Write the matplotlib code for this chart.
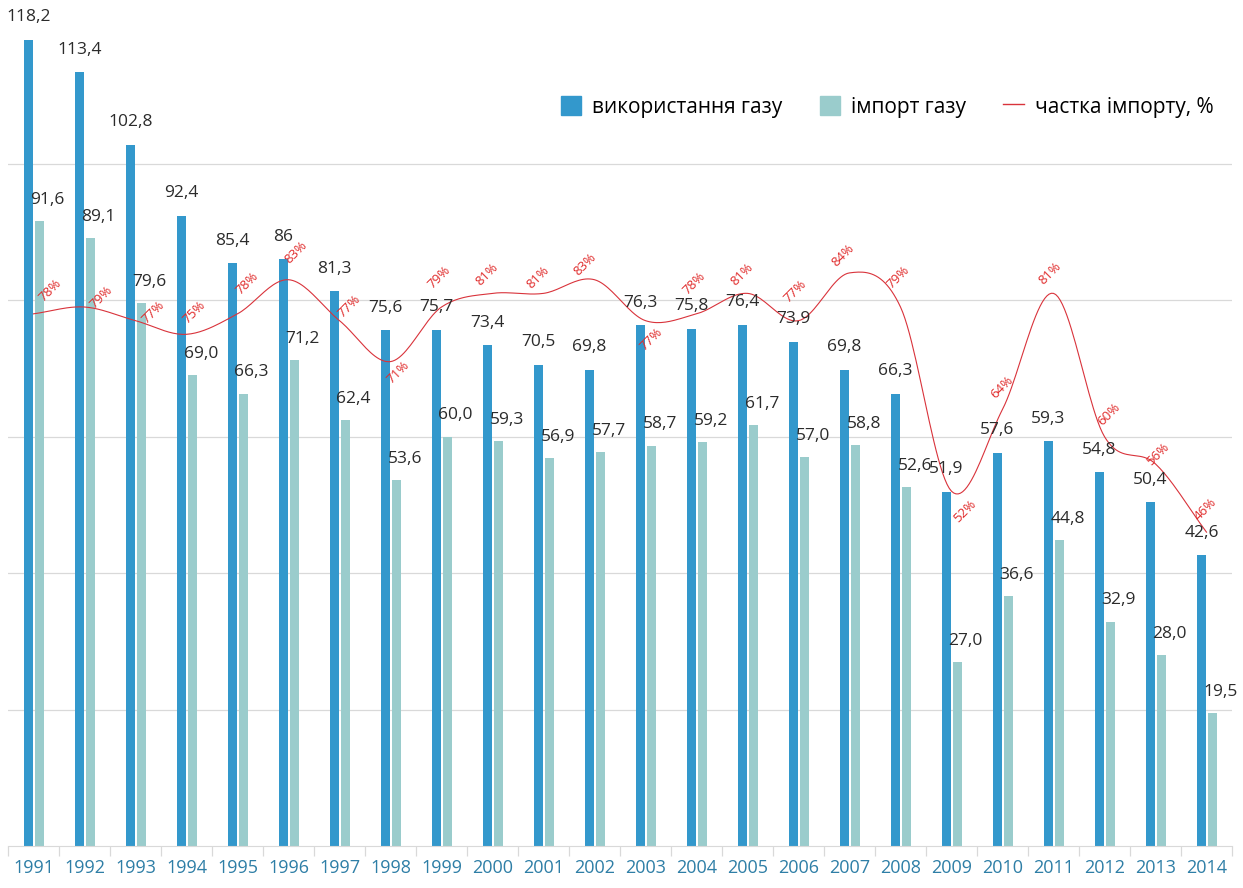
import numpy as np
import matplotlib.pyplot as plt
from matplotlib.patches import Patch
from matplotlib.lines import Line2D

years = [str(y) for y in range(1991, 2015)]
gas_use = [118.2, 113.4, 102.8, 92.4, 85.4, 86, 81.3, 75.6, 75.7, 73.4, 70.5, 69.8,
           76.3, 75.8, 76.4, 73.9, 69.8, 66.3, 51.9, 57.6, 59.3, 54.8, 50.4, 42.6]
gas_import = [91.6, 89.1, 79.6, 69.0, 66.3, 71.2, 62.4, 53.6, 60.0, 59.3, 56.9, 57.7,
              58.7, 59.2, 61.7, 57.0, 58.8, 52.6, 27.0, 36.6, 44.8, 32.9, 28.0, 19.5]
import_share = [78, 79, 77, 75, 78, 83, 77, 71, 79, 81, 81, 83,
                77, 78, 81, 77, 84, 79, 52, 64, 81, 60, 56, 46]
use_labels = ["118,2", "113,4", "102,8", "92,4", "85,4", "86", "81,3", "75,6", "75,7", "73,4",
              "70,5", "69,8", "76,3", "75,8", "76,4", "73,9", "69,8", "66,3", "51,9", "57,6",
              "59,3", "54,8", "50,4", "42,6"]
imp_labels = ["91,6", "89,1", "79,6", "69,0", "66,3", "71,2", "62,4", "53,6", "60,0", "59,3",
              "56,9", "57,7", "58,7", "59,2", "61,7", "57,0", "58,8", "52,6", "27,0", "36,6",
              "44,8", "32,9", "28,0", "19,5"]

# label offsets of the % labels, in pixels (dx, dy)
pct_offsets = [(17, 24), (17, 10), (18, 8), (8, 22), (10, 31), (8, 27), (10, 14), (8, -11),
               (-2, 30), (-5, 19), (-5, 16), (-9, 15), (6, -19), (-2, 31), (-5, 19), (-3, 29),
               (-6, 18), (-2, 30), (13, -20), (-1, 22), (-3, 20), (4, 22), (2, 10), (-1, 23)]

BLUE = "#3398cc"
LIGHT = "#9acccc"
RED = "#d9333b"
TICK = "#2e7ea6"

plt.rcParams['font.family'] = ['Open Sans', 'DejaVu Sans']


def catmull_rom(x, y, n=24):
    # smooth curve through every point, like Excel's smoothed line
    x = np.asarray(x, float)
    y = np.asarray(y, float)
    px = np.concatenate([[2 * x[0] - x[1]], x, [2 * x[-1] - x[-2]]])
    py = np.concatenate([[2 * y[0] - y[1]], y, [2 * y[-1] - y[-2]]])
    xs, ys = [], []
    t = np.linspace(0, 1, n)
    for i in range(1, len(px) - 2):
        for p, out in ((px, xs), (py, ys)):
            p0, p1, p2, p3 = p[i - 1], p[i], p[i + 1], p[i + 2]
            out.extend(0.5 * ((2 * p1) + (-p0 + p2) * t
                              + (2 * p0 - 5 * p1 + 4 * p2 - p3) * t ** 2
                              + (-p0 + 3 * p1 - 3 * p2 + p3) * t ** 3))
    return np.array(xs), np.array(ys)


W, H = 1243, 888
my_dpi = 100
fig = plt.figure(figsize=(W / my_dpi, H / my_dpi), dpi=my_dpi)
ax = fig.add_axes([8 / W, 42 / H, 1224 / W, 846 / H])

x = np.arange(len(years))
bw = 0.19
ax.bar(x - 0.1, gas_use, bw, color=BLUE, zorder=2)
ax.bar(x + 0.115, gas_import, bw, color=LIGHT, zorder=2)

sx, sy = catmull_rom(x, import_share)
ax.plot(sx, sy, color=RED, lw=0.8, zorder=3)

for i in range(len(years)):
    ax.annotate(use_labels[i], (x[i] - 0.1, gas_use[i]), xytext=(0, 10.5),
                textcoords='offset points', ha='center', va='bottom',
                fontsize=12.5, color='#2b2b2b', zorder=4)
    ax.annotate(imp_labels[i], (x[i] + 0.115, gas_import[i]), xytext=(6, 9.5),
                textcoords='offset points', ha='center', va='bottom',
                fontsize=12.5, color='#2b2b2b', zorder=4)
    dx, dy = pct_offsets[i]
    ax.annotate(f"{import_share[i]}%", (x[i], import_share[i]),
                xytext=(dx * 0.72, dy * 0.72), textcoords='offset points',
                ha='center', va='center', rotation=45, fontsize=9.5,
                color='#e02a2a', zorder=5)

ax.set_xlim(-0.5, len(years) - 0.5)
ax.set_ylim(0, 124)
ax.set_yticks([20, 40, 60, 80, 100])
ax.yaxis.grid(True, color='#d9d9d9', lw=0.9)
ax.set_axisbelow(True)
ax.tick_params(axis='y', left=False, labelleft=False)
for s in ['top', 'right', 'left']:
    ax.spines[s].set_visible(False)
ax.spines['bottom'].set_color('#d9d9d9')

ax.set_xticks(x)
ax.set_xticklabels(years, fontsize=13, color=TICK)
ax.tick_params(axis='x', length=0, pad=9)
ax.set_xticks(np.arange(-0.5, len(years)), minor=True)
ax.tick_params(axis='x', which='minor', length=7, color='#d9d9d9', width=0.9)

handles = [Patch(color=BLUE), Patch(color=LIGHT), Line2D([], [], color=RED, lw=1.0)]
names = ["використання газу", "імпорт газу", "частка імпорту, %"]
fig.legend(handles, names, loc='center right', bbox_to_anchor=(1232 / W, 1 - 107 / H),
           ncol=3, frameon=False, prop={'size': 15},
           handlelength=1.0, handleheight=1.0, handletextpad=0.5, columnspacing=1.8)

fig.savefig("out.png", dpi=my_dpi)
